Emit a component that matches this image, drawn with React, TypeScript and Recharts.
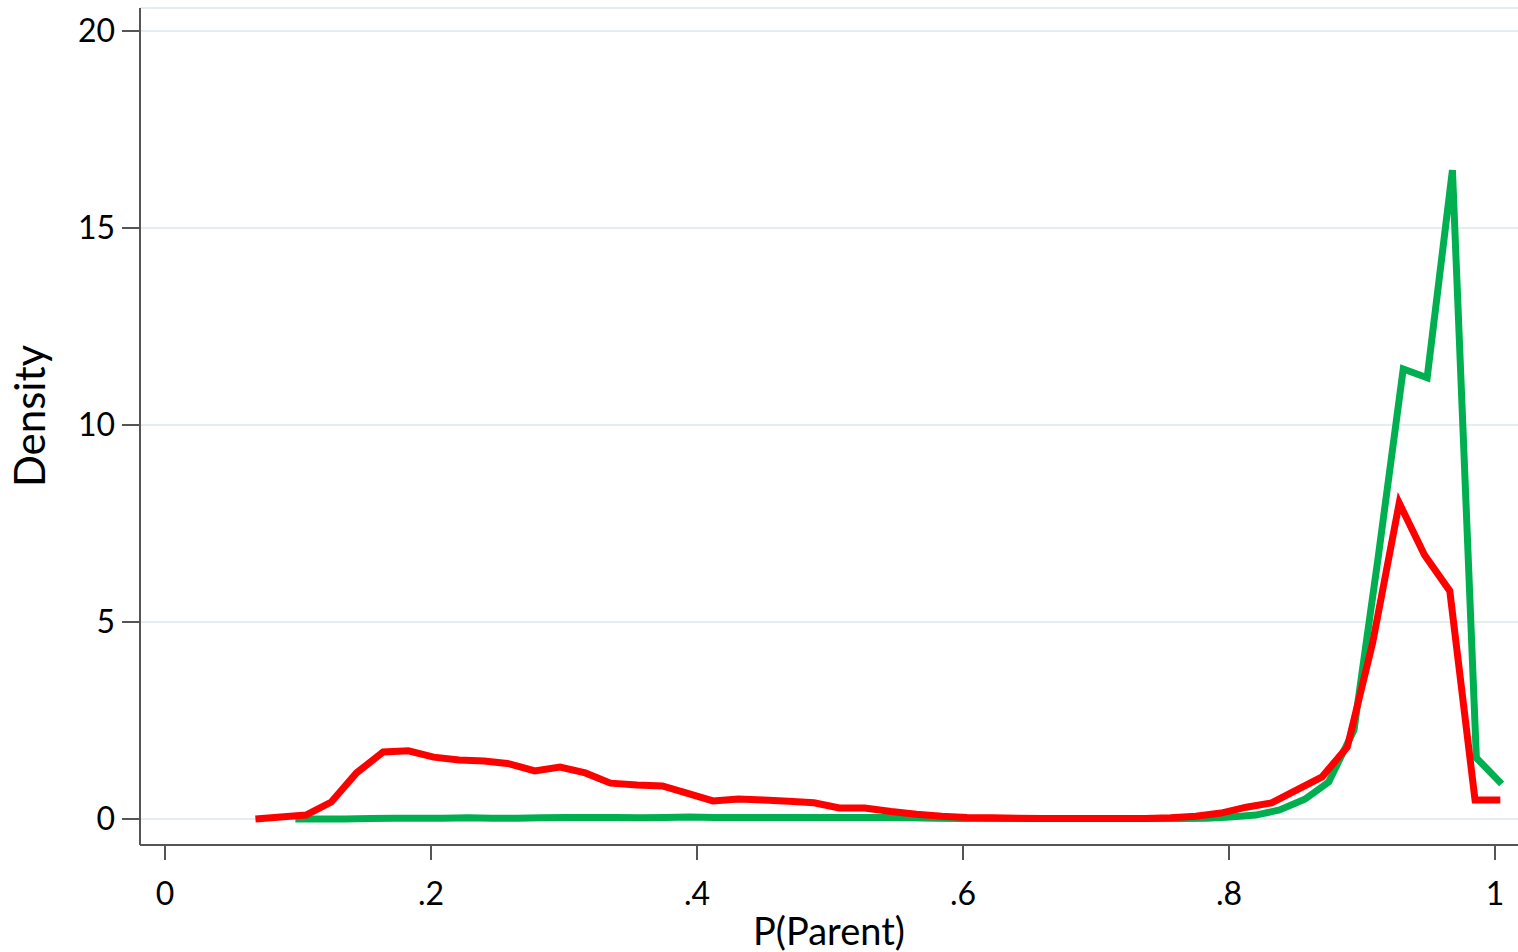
import { CartesianGrid, Label, Line, LineChart, XAxis, YAxis } from "recharts"

// kernel density grid for the red series
const redX = [
  0.068, 0.087, 0.106, 0.125, 0.144, 0.164, 0.183, 0.202, 0.221, 0.24,
  0.259, 0.278, 0.297, 0.316, 0.335, 0.355, 0.374, 0.393, 0.412, 0.431,
  0.45, 0.469, 0.488, 0.507, 0.526, 0.546, 0.565, 0.584, 0.603, 0.622,
  0.641, 0.66, 0.679, 0.698, 0.717, 0.737, 0.756, 0.775, 0.794, 0.813,
  0.832, 0.851, 0.87, 0.889, 0.908, 0.928, 0.947, 0.966, 0.985, 1.004,
]
const redY = [
  0, 0.05, 0.1, 0.43, 1.17, 1.7, 1.73, 1.57, 1.5, 1.47,
  1.4, 1.22, 1.32, 1.17, 0.91, 0.86, 0.84, 0.65, 0.46, 0.51,
  0.48, 0.45, 0.41, 0.28, 0.28, 0.19, 0.12, 0.07, 0.04, 0.03,
  0.02, 0.01, 0.01, 0.01, 0.01, 0.01, 0.03, 0.07, 0.15, 0.3,
  0.41, 0.74, 1.07, 1.83, 4.47, 8.02, 6.7, 5.79, 0.48, 0.48,
]

// grid for the green series
const greenX = [
  0.098, 0.117, 0.135, 0.154, 0.172, 0.191, 0.209, 0.228, 0.246, 0.265,
  0.283, 0.302, 0.32, 0.339, 0.357, 0.376, 0.394, 0.413, 0.431, 0.45,
  0.468, 0.487, 0.505, 0.524, 0.542, 0.561, 0.579, 0.598, 0.616, 0.635,
  0.653, 0.672, 0.69, 0.709, 0.727, 0.746, 0.764, 0.783, 0.801, 0.82,
  0.838, 0.857, 0.875, 0.894, 0.912, 0.931, 0.949, 0.968, 0.986, 1.005,
]
const greenY = [
  0, 0, 0, 0.01, 0.02, 0.02, 0.02, 0.03, 0.02, 0.02,
  0.03, 0.04, 0.04, 0.04, 0.03, 0.04, 0.05, 0.04, 0.04, 0.04,
  0.04, 0.04, 0.04, 0.04, 0.04, 0.03, 0.02, 0.01, 0.01, 0.01,
  0.01, 0.01, 0.01, 0.01, 0.01, 0.01, 0.01, 0.02, 0.05, 0.1,
  0.23, 0.5, 0.94, 2.26, 6.6, 11.42, 11.2, 16.47, 1.55, 0.89,
]

const xTicks = [0, 0.2, 0.4, 0.6, 0.8, 1]
const yTicks = [0, 5, 10, 15, 20]

const red = redX.map((x, i) => ({ x, y: redY[i] }))
const green = greenX.map((x, i) => ({ x, y: greenY[i] }))

const fmtX = (v: number) => (v === 0 ? "0" : v === 1 ? "1" : String(v).replace(/^0/, ""))

const font = "Lato, sans-serif"
const axisColor = "#555555"

export default function App() {
  return (
    <div style={{ position: "absolute", left: 0, top: 0 }}>
      <LineChart width={1518} height={952} margin={{ top: 8, right: 0, bottom: 0, left: 0 }}>
        <CartesianGrid vertical={false} stroke="#e6edf0" strokeWidth={2} />
        <XAxis
          type="number"
          dataKey="x"
          domain={[-0.0188, 1.0173]}
          allowDataOverflow
          ticks={xTicks}
          tickFormatter={fmtX}
          height={107}
          tickSize={15}
          tickMargin={22}
          stroke={axisColor}
          strokeWidth={2}
          tick={{ fill: "#000", fontSize: 32, fontFamily: font }}
        >
          <Label
            content={() => (
              <text x={829} y={945} textAnchor="middle" fontSize={38} fontFamily={font} fill="#000">
                P(Parent)
              </text>
            )}
          />
        </XAxis>
        <YAxis
          type="number"
          domain={[-0.66, 20.584]}
          allowDataOverflow
          ticks={yTicks}
          width={140}
          tickSize={18}
          tickMargin={7}
          stroke={axisColor}
          strokeWidth={2}
          tick={{ fill: "#000", fontSize: 32, fontFamily: font }}
        >
          <Label
            content={() => (
              <text
                x={45}
                y={416}
                textAnchor="middle"
                fontSize={42}
                fontFamily={font}
                fill="#000"
                transform="rotate(-90 45 416)"
              >
                Density
              </text>
            )}
          />
        </YAxis>
        <Line
          data={green}
          dataKey="y"
          type="linear"
          stroke="#00b050"
          strokeWidth={7}
          dot={false}
          isAnimationActive={false}
        />
        <Line
          data={red}
          dataKey="y"
          type="linear"
          stroke="#ff0000"
          strokeWidth={7}
          dot={false}
          isAnimationActive={false}
        />
      </LineChart>
    </div>
  )
}
